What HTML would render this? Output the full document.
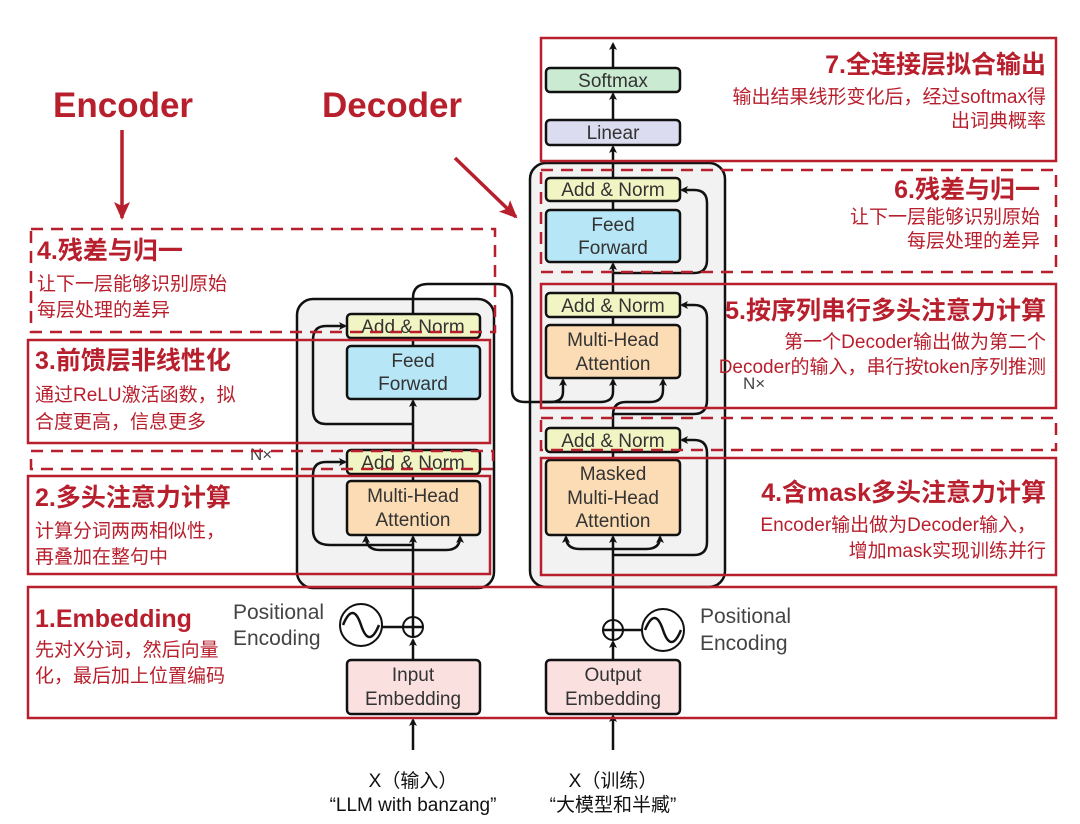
<!DOCTYPE html>
<html><head><meta charset="utf-8"><style>
html,body{margin:0;padding:0;background:#fff;}
svg{display:block;}
.r{fill:#b81f2d;font-family:"Liberation Sans","Noto Sans CJK SC",sans-serif;}
.h{font-size:25px;font-weight:bold;}
.s{font-size:19px;}
.b{font-family:"Liberation Sans","Noto Sans CJK SC",sans-serif;font-size:19px;fill:#333;text-anchor:middle;}
.k{fill:none;stroke:#111;stroke-width:2.5;}
</style></head><body>
<svg width="1080" height="824" viewBox="0 0 1080 824" xmlns="http://www.w3.org/2000/svg">
<defs>
<marker id="a" markerWidth="8" markerHeight="8" refX="6" refY="4" orient="auto" markerUnits="userSpaceOnUse"><path d="M0,0 L8,4 L0,8 L2,4Z" fill="#111"/></marker>
<marker id="ra" markerWidth="20" markerHeight="20" refX="16" refY="10" orient="auto" markerUnits="userSpaceOnUse"><path d="M0,2 L18,10 L0,18 L4,10Z" fill="#b81f2d"/></marker>
</defs>
<rect x="297" y="299" width="197" height="289" rx="16" fill="#f2f2f2" stroke="#111" stroke-width="2.5"/>
<rect x="530" y="163" width="195" height="424" rx="16" fill="#f2f2f2" stroke="#111" stroke-width="2.5"/>

<g class="k">
<path d="M413,750 V720" marker-end="url(#a)"/>
<path d="M413,660 V640" marker-end="url(#a)"/>
<path d="M413,617 V537" marker-end="url(#a)"/>
<path d="M413,545 H330 Q313,545 313,530 V475 Q313,462 326,462 H345" marker-end="url(#a)"/>
<path d="M413,550 H380 Q366,550 366,537" marker-end="url(#a)"/>
<path d="M413,550 H446 Q460,550 460,537" marker-end="url(#a)"/>
<path d="M413,474 V481"/>
<path d="M413,450 V401" marker-end="url(#a)"/>
<path d="M413,424 H326 Q313,424 313,410 V340 Q313,326 326,326 H345" marker-end="url(#a)"/>
<path d="M413,346 V338"/>
<path d="M413,314 V298 Q413,284 428,284 H498 Q512,284 512,298 V390 Q512,402 525,402 H550 Q563,402 563,392 V380" marker-end="url(#a)"/>
<path d="M540,402 H600 Q613,402 613,392 V380" marker-end="url(#a)"/>
<path d="M613,750 V716" marker-end="url(#a)"/>
<path d="M613,660 V642" marker-end="url(#a)"/>
<path d="M613,620 V537" marker-end="url(#a)"/>
<path d="M613,555 H694 Q707,555 707,542 V453 Q707,440 694,440 H682" marker-end="url(#a)"/>
<path d="M613,549 H580 Q566,549 566,537" marker-end="url(#a)"/>
<path d="M613,549 H646 Q660,549 660,537" marker-end="url(#a)"/>
<path d="M613,460 V452"/>
<path d="M613,428 V415 Q613,402 626,402 H650 Q663,402 663,390 V380" marker-end="url(#a)"/>
<path d="M613,414 H694 Q707,414 707,400 V318 Q707,305 694,305 H682" marker-end="url(#a)"/>
<path d="M613,325 V317"/>
<path d="M613,293 V264" marker-end="url(#a)"/>
<path d="M613,273 H694 Q707,273 707,260 V203 Q707,190 694,190 H682" marker-end="url(#a)"/>
<path d="M613,210 V201"/>
<path d="M613,178 V147" marker-end="url(#a)"/>
<path d="M613,120 V94" marker-end="url(#a)"/>
<path d="M613,68 V44" marker-end="url(#a)"/>
<path d="M382,627 H403"/>
<path d="M623,630 H642"/>
</g>

<g stroke="#111" stroke-width="2.5">
<rect x="347" y="314" width="133" height="24" rx="4" fill="#f1f4c3"/>
<rect x="347" y="346" width="133" height="53" rx="4" fill="#b7e6f6"/>
<rect x="347" y="450" width="133" height="24" rx="4" fill="#f1f4c3"/>
<rect x="347" y="481" width="133" height="54" rx="4" fill="#fbdcb4"/>
<rect x="347" y="660" width="133" height="54" rx="4" fill="#fbe0e0"/>
<rect x="546" y="68" width="134" height="24" rx="4" fill="#cbead2"/>
<rect x="546" y="120" width="134" height="25" rx="4" fill="#dcdcf0"/>
<rect x="546" y="178" width="134" height="23" rx="4" fill="#f1f4c3"/>
<rect x="546" y="210" width="134" height="52" rx="4" fill="#b7e6f6"/>
<rect x="546" y="293" width="134" height="24" rx="4" fill="#f1f4c3"/>
<rect x="546" y="325" width="134" height="53" rx="4" fill="#fbdcb4"/>
<rect x="546" y="428" width="134" height="24" rx="4" fill="#f1f4c3"/>
<rect x="546" y="460" width="134" height="75" rx="4" fill="#fbdcb4"/>
<rect x="546" y="660" width="134" height="54" rx="4" fill="#fbe0e0"/>
</g>
<g fill="#fff" stroke="#111" stroke-width="2">
<circle cx="413" cy="627" r="10"/><circle cx="361" cy="625" r="21"/>
<circle cx="613" cy="630" r="10"/><circle cx="663" cy="630" r="21"/>
</g>
<g class="k" stroke-width="2">
<path d="M403,627 H423 M413,617 V637"/><path d="M603,630 H623 M613,620 V640"/>
<path d="M343,625 C350,608 356,610 361,625 C366,640 372,642 379,625"/>
<path d="M645,630 C652,613 658,615 663,630 C668,645 674,647 681,630"/>
</g>

<g class="b">
<text x="413" y="333">Add &amp; Norm</text>
<text x="413" y="367">Feed</text><text x="413" y="390">Forward</text>
<text x="413" y="469">Add &amp; Norm</text>
<text x="413" y="502">Multi-Head</text><text x="413" y="526">Attention</text>
<text x="413" y="681">Input</text><text x="413" y="705">Embedding</text>
<text x="613" y="87">Softmax</text>
<text x="613" y="139">Linear</text>
<text x="613" y="196">Add &amp; Norm</text>
<text x="613" y="231">Feed</text><text x="613" y="254">Forward</text>
<text x="613" y="312">Add &amp; Norm</text>
<text x="613" y="346">Multi-Head</text><text x="613" y="370">Attention</text>
<text x="613" y="447">Add &amp; Norm</text>
<text x="613" y="480">Masked</text><text x="613" y="504">Multi-Head</text><text x="613" y="527">Attention</text>
<text x="613" y="681">Output</text><text x="613" y="705">Embedding</text>
</g>
<g font-family="Liberation Sans,sans-serif" font-size="21" fill="#444">
<text x="233" y="619">Positional</text><text x="233" y="645">Encoding</text>
<text x="700" y="623">Positional</text><text x="700" y="650">Encoding</text>
<text x="250" y="460" font-size="17">N×</text>
<text x="743" y="389" font-size="17">N×</text>
</g>
<g font-family="Liberation Sans,'Noto Sans CJK SC',sans-serif" font-size="19" fill="#111" text-anchor="middle">
<text x="413" y="787">X（输入）</text><text x="413" y="811">“LLM with banzang”</text>
<text x="613" y="787">X（训练）</text><text x="613" y="811">“大模型和半臧”</text>
</g>

<g fill="none" stroke="#b81f2d" stroke-width="2.5">
<rect x="541" y="38" width="515" height="123"/>
<rect x="541" y="170" width="515" height="102" stroke-dasharray="12,8"/>
<rect x="541" y="284" width="515" height="124"/>
<rect x="541" y="418" width="515" height="32" stroke-dasharray="12,8"/>
<rect x="541" y="458" width="515" height="117"/>
<rect x="31" y="229" width="464" height="103" stroke-dasharray="12,8"/>
<rect x="28" y="340" width="462" height="103"/>
<rect x="31" y="451" width="462" height="18" stroke-dasharray="12,8"/>
<rect x="28" y="476" width="462" height="98"/>
<rect x="28" y="587" width="1028" height="131"/>
<path d="M122,130 V218" stroke-width="3.5" marker-end="url(#ra)"/>
<path d="M455,158 L516,217" stroke-width="3.5" marker-end="url(#ra)"/>
</g>

<text class="r" x="53" y="117" font-size="35" font-weight="bold">Encoder</text>
<text class="r" x="322" y="117" font-size="35" font-weight="bold">Decoder</text>
<text class="r h" x="37" y="259">4.残差与归一</text>
<text class="r s" x="37" y="290">让下一层能够识别原始</text>
<text class="r s" x="37" y="316">每层处理的差异</text>
<text class="r h" x="35" y="369">3.前馈层非线性化</text>
<text class="r s" x="35" y="401">通过ReLU激活函数，拟</text>
<text class="r s" x="35" y="428">合度更高，信息更多</text>
<text class="r h" x="35" y="506">2.多头注意力计算</text>
<text class="r s" x="35" y="537">计算分词两两相似性，</text>
<text class="r s" x="35" y="563">再叠加在整句中</text>
<text class="r h" x="35" y="627">1.Embedding</text>
<text class="r s" x="35" y="656">先对X分词，然后向量</text>
<text class="r s" x="35" y="682">化，最后加上位置编码</text>
<g text-anchor="end">
<text class="r h" x="1046" y="73">7.全连接层拟合输出</text>
<text class="r s" x="1046" y="103">输出结果线形变化后，经过softmax得</text>
<text class="r s" x="1046" y="127">出词典概率</text>
<text class="r h" x="1040" y="198">6.残差与归一</text>
<text class="r s" x="1040" y="223">让下一层能够识别原始</text>
<text class="r s" x="1040" y="247">每层处理的差异</text>
<text class="r h" x="1046" y="319">5.按序列串行多头注意力计算</text>
<text class="r s" x="1046" y="348">第一个Decoder输出做为第二个</text>
<text class="r s" x="1046" y="373">Decoder的输入，串行按token序列推测</text>
<text class="r h" x="1046" y="501">4.含mask多头注意力计算</text>
<text class="r s" x="1036" y="531">Encoder输出做为Decoder输入，</text>
<text class="r s" x="1046" y="557">增加mask实现训练并行</text>
</g>
</svg>
</body></html>
